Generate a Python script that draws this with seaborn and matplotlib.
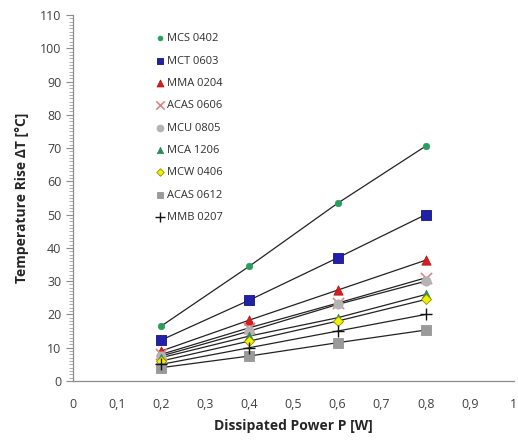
import matplotlib
matplotlib.use("Agg")
import matplotlib.pyplot as plt
from matplotlib.ticker import MultipleLocator
import seaborn as sns
import pandas as pd

power = [0.2, 0.4, 0.6, 0.8]

series_names = ["MCS 0402", "MCT 0603", "MMA 0204", "ACAS 0606", "MCU 0805",
                "MCA 1206", "MCW 0406", "ACAS 0612", "MMB 0207"]

mcs_0402 = [16.5, 34.5, 53.4, 70.6]
mct_0603 = [12.3, 24.3, 37.0, 50.0]
mma_0204 = [9.0, 18.3, 27.3, 36.3]
acas_0606 = [8.0, 16.0, 23.4, 31.0]
mcu_0805 = [7.5, 15.0, 23.0, 30.0]
mca_1206 = [7.0, 13.5, 19.0, 26.0]
mcw_0406 = [6.0, 12.0, 18.0, 24.5]
acas_0612 = [4.0, 7.5, 11.5, 15.3]
mmb_0207 = [5.0, 10.0, 15.0, 20.0]

x_tick_values = [0, 0.1, 0.2, 0.3, 0.4, 0.5, 0.6, 0.7, 0.8, 0.9, 1.0]
x_tick_labels = ["0", "0,1", "0,2", "0,3", "0,4", "0,5", "0,6", "0,7", "0,8", "0,9", "1"]

values = [mcs_0402, mct_0603, mma_0204, acas_0606, mcu_0805,
          mca_1206, mcw_0406, acas_0612, mmb_0207]

# marker, face colour, edge colour, size
styles = {
    "MCS 0402": dict(marker="o", fc="#2a9d5c", ec="#2a9d5c", s=22, lw=0.5),
    "MCT 0603": dict(marker="s", fc="#2020a8", ec="#14147a", s=45, lw=0.6),
    "MMA 0204": dict(marker="^", fc="#d42020", ec="#b01010", s=45, lw=0.5),
    "ACAS 0606": dict(marker="x", fc="#e08585", ec="#e08585", s=65, lw=1.2),
    "MCU 0805": dict(marker="o", fc="#b4b4b4", ec="#b4b4b4", s=45, lw=0.5),
    "MCA 1206": dict(marker="^", fc="#2e8b57", ec="#2e8b57", s=38, lw=0.5),
    "MCW 0406": dict(marker="D", fc="#f2f200", ec="#8c8c00", s=26, lw=0.6),
    "ACAS 0612": dict(marker="s", fc="#9a9a9a", ec="#8a8a8a", s=45, lw=0.5),
    "MMB 0207": dict(marker="+", fc="#111111", ec="#111111", s=85, lw=1.0),
}

df = pd.DataFrame({
    "P": power * len(series_names),
    "dT": [v for vals in values for v in vals],
    "series": [n for n in series_names for _ in power],
})

sns.set_style("white")
plt.rcParams["font.family"] = ["Open Sans", "DejaVu Sans"]

fig = plt.figure(figsize=(5.18, 4.47), dpi=100)
ax = fig.add_axes([0.141, 0.1477, 0.851, 0.8187])

for name in series_names:
    sub = df[df["series"] == name]
    sns.lineplot(data=sub, x="P", y="dT", color="#222222", linewidth=0.9,
                 ax=ax, legend=False)

for name in series_names:
    sub = df[df["series"] == name]
    st = styles[name]
    if st["marker"] in ("x", "+"):
        sns.scatterplot(data=sub, x="P", y="dT", marker=st["marker"],
                        color=st["fc"], s=st["s"], linewidth=st["lw"],
                        ax=ax, label=name, zorder=3)
    else:
        sns.scatterplot(data=sub, x="P", y="dT", marker=st["marker"],
                        color=st["fc"], edgecolor=st["ec"], s=st["s"],
                        linewidth=st["lw"], ax=ax, label=name, zorder=3)

ax.set_xlim(0, 1)
ax.set_ylim(0, 110)
ax.set_xticks(x_tick_values)
ax.set_xticklabels(x_tick_labels)
ax.yaxis.set_major_locator(MultipleLocator(10))
ax.yaxis.set_minor_locator(MultipleLocator(1))

for side in ("top", "right"):
    ax.spines[side].set_visible(False)
for side in ("left", "bottom"):
    ax.spines[side].set_color("#8c8c8c")
    ax.spines[side].set_linewidth(0.9)

ax.tick_params(axis="x", which="major", direction="inout", length=8, width=0.8,
               color="#8c8c8c", labelsize=9, labelcolor="#404040", pad=8)
ax.tick_params(axis="y", which="major", direction="out", length=5, width=0.8,
               color="#8c8c8c", labelsize=9, labelcolor="#404040", left=True)
ax.tick_params(axis="y", which="minor", direction="out", length=3, width=0.6,
               color="#a0a0a0", left=True)

ax.set_xlabel("Dissipated Power P [W]", fontsize=10, fontweight="bold", labelpad=6)
ax.set_ylabel("Temperature Rise \u0394T [\u00b0C]", fontsize=10, fontweight="bold", labelpad=8)

leg = ax.legend(loc="upper left", bbox_to_anchor=(0.175, 0.962), frameon=False,
                fontsize=8, handletextpad=0.1, labelspacing=1.02,
                borderaxespad=0, handlelength=1.0, markerscale=0.75)
for t in leg.get_texts():
    t.set_color("#303030")

fig.savefig("out.png", dpi=100)
